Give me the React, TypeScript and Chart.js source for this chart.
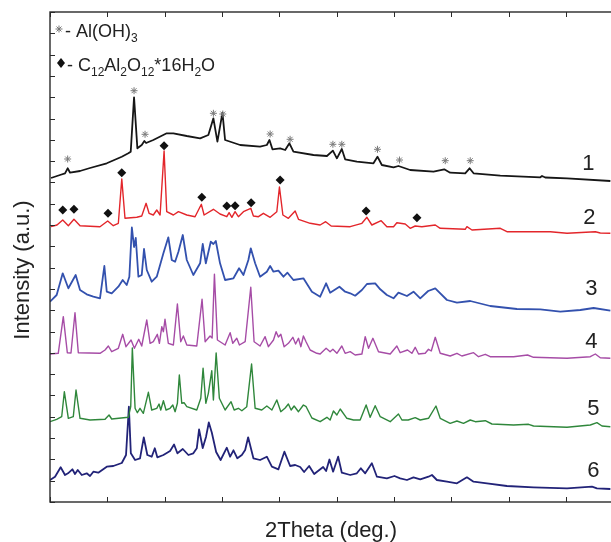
import React, { useEffect, useRef } from 'react';
import { Chart, registerables } from 'chart.js';
Chart.register(...registerables);

const FONT = '"Liberation Sans", Arial, Helvetica, sans-serif';

// axis settings (2Theta in degrees, intensity in arbitrary units)
const xMin = 5;
const xMax = 54.1;
const xTicks = [5, 10, 15, 20, 25, 30, 35, 40, 45, 50];
const yMax = 490;
const yTickCount = 23;
const xTitle = '2Theta (deg.)';
const yTitle = 'Intensity (a.u.)';
const seriesLabels = ['1', '2', '3', '4', '5', '6'];
const seriesLabelX = [51.95, 52.03, 52.21, 52.21, 52.38, 52.38];
const seriesLabelY = [332, 278, 207, 154, 87, 25];
const seriesColors = ['#161616', '#e3262b', '#3351ae', '#a64ca6', '#2f873b', '#222378'];
const seriesWidths = [1.8, 1.4, 1.8, 1.4, 1.4, 1.8];

// [2Theta, intensity]
const trace1 = [[5.09,324],[5.87,327],[6.31,328.7],[6.54,333.7],[6.75,329.3],[7.62,331],[8.49,334],[9.95,338.7],[11.26,345.3],[11.83,348.7],[12.04,350.3],[12.33,404.7],[12.62,353.7],[13.0,357],[13.23,361],[13.38,359],[14.01,362],[15.18,368.7],[15.76,368.7],[16.93,366],[18.09,363.7],[18.81,367],[19.25,383.7],[19.6,360.3],[20.04,389.3],[20.27,362],[21.58,357],[23.32,355.3],[23.91,357],[24.14,362],[24.4,352.7],[25.07,353.7],[25.51,352],[25.88,358.7],[26.23,350.3],[27.98,347],[29.15,346],[29.67,351.3],[30.02,343.7],[30.45,353],[30.74,342.7],[31.76,340.3],[33.21,338.7],[33.56,345.3],[33.94,337],[34.96,334.7],[35.39,336],[36.41,332],[38.45,330.3],[39.38,332.7],[39.9,329.3],[41.21,328.7],[41.59,333.7],[41.94,328.7],[44.27,326.3],[47.76,324.7],[47.91,326],[48.19,324.5],[50.09,323.7],[53.87,321]];

const trace2 = [[5.09,275.3],[5.61,277],[6.11,282],[6.6,276.3],[7.09,282.7],[7.62,276.3],[9.36,275.3],[10.03,281],[10.52,276.3],[10.96,278.7],[11.26,323],[11.54,283.7],[12.57,284.7],[13.0,286],[13.38,298.7],[13.64,288.7],[14.01,287],[14.31,292],[14.6,287],[14.95,351],[15.18,290.3],[15.76,287],[16.2,290.3],[16.93,287],[17.65,285.3],[18.2,297.7],[18.44,287],[19.25,292.7],[19.83,288],[20.42,285.3],[20.62,289.3],[20.86,284.7],[21.14,290.3],[21.43,285.3],[21.87,290.3],[22.51,293.7],[22.74,286],[23.18,285.3],[23.61,288.7],[24.2,284.7],[24.78,290.3],[25.01,315],[25.31,287],[25.79,283.7],[26.38,291],[26.67,282.7],[27.69,278.7],[28.56,277],[29.04,280.3],[29.52,276],[31.18,275.3],[32.2,278.7],[32.64,284.7],[33.07,277],[33.88,281.3],[34.38,275.3],[34.96,275.3],[35.25,279.3],[35.98,278],[36.41,273.7],[36.85,276],[37.43,275.3],[38.6,277],[39.03,273.7],[41.21,272.7],[41.36,275.3],[41.8,272],[44.27,273.7],[44.85,270.3],[48.63,270.3],[50.09,268.7],[52.56,270.3],[52.99,269],[53.87,268.7]];

const trace3 = [[5.0,200.3],[5.58,207],[6.11,228.7],[6.6,213.7],[7.24,227],[7.62,212],[8.2,207.7],[8.78,205.3],[9.36,203.7],[9.74,236],[9.95,210.3],[10.38,208.7],[10.96,215.3],[11.34,222],[11.69,217],[11.92,225.3],[12.14,274.5],[12.33,255],[12.48,264],[12.71,225.3],[13.0,227],[13.2,253],[13.44,232],[13.87,220.3],[14.31,225.3],[14.89,248.7],[15.32,264.7],[15.62,242],[15.91,240.3],[16.2,250.3],[16.58,267],[16.93,242],[17.5,227],[18.09,238.7],[18.32,258],[18.59,238.7],[19.02,260.3],[19.25,258],[19.46,261],[19.83,238.7],[20.27,222],[21.0,223.7],[21.49,233.7],[21.87,227],[22.3,242],[22.51,253.7],[22.89,238.7],[23.32,225.3],[23.91,230.3],[24.2,236],[24.49,230.3],[24.92,231.3],[25.36,225.3],[25.71,229.3],[26.23,222],[27.1,223.7],[27.84,210.3],[28.56,205.3],[29.08,218.7],[29.43,209.3],[30.24,215.3],[30.74,210.3],[31.18,208.7],[31.61,206.3],[32.2,212],[32.64,218],[33.36,218.7],[33.8,212.7],[34.38,207],[34.96,203.7],[35.39,209.3],[36.13,206],[36.7,210.3],[37.29,203.7],[37.98,211],[38.6,213.7],[39.62,202],[40.49,199.3],[41.65,201],[43.39,196],[45.72,193],[47.76,192.7],[49.5,190.3],[51.25,192],[52.41,194],[53.87,191.3]];

const trace4 = [[5.0,148],[5.72,148.7],[6.16,185.3],[6.51,149.3],[6.83,149],[7.18,189.3],[7.47,149.3],[9.36,148.7],[9.8,152],[10.09,156],[10.38,150.3],[10.96,153.7],[11.34,167.7],[11.63,155.3],[12.07,162],[12.36,153.7],[12.74,162.7],[13.0,156],[13.44,182],[13.73,158.7],[14.01,160.3],[14.36,167.7],[14.54,158.7],[14.75,175.3],[14.89,170.3],[15.03,182.7],[15.32,158.7],[15.76,157],[16.11,198],[16.4,160.3],[16.63,166],[16.93,157],[17.8,156],[18.26,202.7],[18.53,160.3],[18.96,166],[19.14,164],[19.34,227.7],[19.6,162],[20.27,157],[20.71,169.3],[20.94,158.7],[21.29,163.7],[21.52,157],[22.02,160.3],[22.51,214.7],[22.8,160.3],[23.32,156],[23.76,165.3],[24.05,155.3],[24.49,162],[24.72,170.3],[24.92,165],[25.13,167.7],[25.42,155.3],[25.79,158.7],[26.18,164.7],[26.42,158],[26.67,163.7],[26.88,155.3],[27.1,166],[27.34,160],[27.69,152],[28.27,148.7],[28.56,148],[29.08,153.7],[29.43,150.3],[29.67,152.7],[30.02,148.7],[30.45,156],[30.74,148.7],[31.18,150.3],[31.61,147],[32.2,148],[32.49,165.3],[32.78,153.7],[33.16,163.7],[33.65,150.3],[34.67,148],[35.25,156],[35.54,149.3],[36.18,152],[36.56,148.7],[36.85,154.7],[37.14,148],[37.72,148.7],[38.01,152.7],[38.25,151],[38.6,164.7],[39.03,148.7],[39.9,146],[40.49,148.7],[40.92,146],[41.94,149.3],[42.37,145.3],[42.96,147.7],[43.39,145.3],[45.43,145.3],[46.65,147],[47.17,144.7],[50.09,143.7],[52.12,145.3],[52.56,148],[52.99,144.3],[53.87,143.7]];

const trace5 = [[5.0,80.3],[5.58,82.7],[6.02,85.3],[6.25,110.3],[6.6,83.7],[7.03,85.3],[7.27,112],[7.62,83.7],[8.49,82],[9.8,82.7],[10.15,87],[10.38,83],[11.83,84.7],[12.04,95.3],[12.18,154],[12.42,93.7],[12.62,89.3],[12.85,93.7],[13.14,88.7],[13.58,109.7],[13.87,92],[14.31,93.7],[14.51,98],[14.66,92],[14.89,101.3],[15.12,92],[15.47,93.7],[15.71,97],[15.91,90.3],[16.11,98.7],[16.28,127],[16.49,98.7],[16.69,99.3],[16.93,95.3],[17.8,92],[18.15,103.7],[18.35,133.7],[18.59,98.7],[18.81,108.7],[19.11,131.3],[19.25,102],[19.49,149],[19.77,103.7],[20.27,92],[20.79,100.3],[21.06,92],[21.43,93.7],[21.73,91.3],[22.16,95.3],[22.58,138],[22.89,93.7],[23.47,92],[23.91,96],[24.35,92],[24.78,102],[25.13,90.3],[25.51,94],[25.79,98],[26.03,92],[26.29,96],[26.67,90.3],[27.1,97],[27.34,95.3],[27.84,84],[28.56,80.3],[29.15,84.7],[29.43,82],[29.72,91],[30.02,87],[30.31,93],[30.89,83.7],[31.47,82],[32.05,82],[32.57,97],[32.92,84.7],[33.36,96.3],[33.8,85.3],[34.67,80.3],[35.39,88],[35.69,82],[36.24,82],[36.85,84.3],[37.29,82],[38.01,83.7],[38.66,96],[39.03,83.7],[39.9,78.7],[40.49,81],[41.06,78.7],[41.65,82],[42.09,80.3],[42.96,81.3],[43.54,78],[45.43,77],[46.74,77.7],[47.17,76],[50.09,74.7],[52.12,77],[52.7,79.3],[53.14,76],[53.87,75.3]];

const trace6 = [[5.0,22],[5.44,25.3],[5.93,34.7],[6.31,27],[6.57,28.7],[6.95,32.7],[7.18,28],[7.42,32],[7.77,27],[8.2,28.7],[8.49,26],[8.78,30.3],[9.21,29.3],[9.95,35.3],[10.52,36],[11.26,39],[11.63,47],[11.88,95.3],[12.05,48.7],[12.42,42],[12.85,43.7],[13.18,64.5],[13.49,47],[13.87,45.3],[14.14,53.7],[14.36,44.7],[14.89,47],[15.47,51],[15.82,57.5],[16.11,48.7],[16.58,53],[17.07,47],[17.5,48.7],[17.8,53.7],[18.0,72.5],[18.32,54],[18.61,65.3],[18.85,79.5],[19.11,69.5],[19.49,50],[19.88,42],[20.42,54.3],[20.71,45.3],[21.0,51.7],[21.34,43.7],[21.73,47],[22.02,52],[22.28,64.7],[22.74,43.7],[23.32,42],[23.91,45.3],[24.35,35.3],[24.92,32.7],[25.44,50.3],[25.94,36],[26.38,37],[26.82,35],[27.16,30],[27.6,36],[28.04,28],[28.82,35],[29.08,31],[29.37,42.5],[29.69,30.3],[30.13,45.3],[30.45,29.3],[31.18,27],[31.76,28.7],[32.11,33.7],[32.49,28.7],[33.07,38.7],[33.51,25.3],[34.38,23.7],[35.04,26],[35.54,23.7],[36.13,22],[36.7,24.7],[37.29,22.7],[38.01,25.3],[38.31,27],[38.74,22],[39.62,20.3],[40.49,18.7],[41.36,24.7],[41.94,20.3],[43.11,18.7],[44.85,16],[47.17,14.7],[50.09,13.7],[52.27,15.3],[52.7,13.7],[53.87,13]];

const diamondMarks = [[6.11,292],[7.09,292.7],[10.06,288.7],[11.26,329.3],[14.95,356.3],[18.24,304.7],[20.42,296],[21.14,296.3],[22.54,299.3],[25.07,322],[32.57,291],[37.0,284.3]];
const starMarks = [[6.54,343],[12.33,411.3],[13.29,367.7],[19.25,388.7],[20.07,388],[24.2,368],[25.94,362.7],[29.67,357.7],[30.45,357.7],[33.56,352.7],[35.48,342],[39.47,341.3],[41.65,341.3]];

const legendLines = [
  { symbol: 'star', parts: [['- Al(OH)', false], ['3', true]] },
  { symbol: 'diamond', parts: [['- C', false], ['12', true], ['Al', false], ['2', true], ['O', false], ['12', true], ['*16H', false], ['2', true], ['O', false]] },
];

const toXY = (arr: number[][]) => arr.map(([x, y]) => ({ x, y }));

function drawStar(ctx: CanvasRenderingContext2D, x: number, y: number, r: number) {
  ctx.beginPath();
  for (let i = 0; i < 4; i++) {
    const a = (i * Math.PI) / 4;
    ctx.moveTo(x - Math.cos(a) * r, y - Math.sin(a) * r);
    ctx.lineTo(x + Math.cos(a) * r, y + Math.sin(a) * r);
  }
  ctx.stroke();
}

const decorPlugin = {
  id: 'decor',
  afterDatasetsDraw(chart: any) {
    const { ctx, chartArea: a, scales } = chart;
    const xs = scales.x;
    const ys = scales.y;
    ctx.save();
    ctx.strokeStyle = '#2a2a2a';
    ctx.lineWidth = 1.4;
    ctx.strokeRect(a.left, a.top, a.right - a.left, a.bottom - a.top);
    ctx.beginPath();
    for (const v of xTicks) {
      const px = Math.round(xs.getPixelForValue(v)) + 0.5;
      ctx.moveTo(px, a.bottom);
      ctx.lineTo(px, a.bottom - 5);
      ctx.moveTo(px, a.top);
      ctx.lineTo(px, a.top + 5);
    }
    for (let i = 0; i <= yTickCount; i++) {
      const py = Math.round(ys.getPixelForValue((i * yMax) / yTickCount)) + 0.5;
      ctx.moveTo(a.left, py);
      ctx.lineTo(a.left + 5, py);
    }
    ctx.lineWidth = 1;
    ctx.stroke();
    ctx.restore();
  },
  afterDraw(chart: any) {
    const { ctx, chartArea: a, scales } = chart;
    const xs = scales.x;
    const ys = scales.y;
    ctx.save();
    ctx.fillStyle = '#222';
    // series numbers
    ctx.font = `22px ${FONT}`;
    ctx.textAlign = 'center';
    ctx.textBaseline = 'alphabetic';
    seriesLabels.forEach((t, i) => {
      ctx.fillText(t, xs.getPixelForValue(seriesLabelX[i]), ys.getPixelForValue(seriesLabelY[i]));
    });
    // axis titles
    ctx.fillText(xTitle, (a.left + 612) / 2, 537);
    ctx.save();
    ctx.translate(29, 270);
    ctx.rotate(-Math.PI / 2);
    ctx.fillText(yTitle, 0, 0);
    ctx.restore();
    // legend
    ctx.textAlign = 'left';
    const lineY = [36.5, 70.5];
    legendLines.forEach((ln, i) => {
      const by = lineY[i];
      if (ln.symbol === 'star') {
        ctx.strokeStyle = '#777';
        ctx.lineWidth = 1;
        drawStar(ctx, 59, by - 7.5, 3.5);
      } else {
        ctx.fillStyle = '#111';
        ctx.beginPath();
        ctx.moveTo(61, by - 12.5);
        ctx.lineTo(65, by - 7.5);
        ctx.lineTo(61, by - 2.5);
        ctx.lineTo(57, by - 7.5);
        ctx.closePath();
        ctx.fill();
      }
      ctx.fillStyle = '#222';
      let x = i === 0 ? 65 : 67;
      for (const [txt, sub] of ln.parts as [string, boolean][]) {
        ctx.font = sub ? `12px ${FONT}` : `18px ${FONT}`;
        ctx.fillText(txt, x, sub ? by + 5.5 : by);
        x += ctx.measureText(txt).width;
      }
    });
    ctx.restore();
  },
};

export default function App() {
  const ref = useRef<HTMLCanvasElement>(null);
  useEffect(() => {
    if (!ref.current) return;
    const traces = [trace1, trace2, trace3, trace4, trace5, trace6];
    const chart = new Chart(ref.current, {
      type: 'line',
      data: {
        datasets: [
          {
            label: 'diamonds',
            data: toXY(diamondMarks),
            showLine: false,
            pointStyle: 'rectRot',
            pointRadius: 4.5,
            pointBackgroundColor: '#111',
            pointBorderColor: '#111',
            pointBorderWidth: 0,
          },
          {
            label: 'stars',
            data: toXY(starMarks),
            showLine: false,
            pointStyle: 'star',
            pointRadius: 3.5,
            pointBorderColor: '#7a7a7a',
            pointBorderWidth: 1,
          },
          ...traces.map((t, i) => ({
            label: seriesLabels[i],
            data: toXY(t),
            borderColor: seriesColors[i],
            borderWidth: seriesWidths[i],
            borderJoinStyle: 'round',
            pointRadius: 0,
            tension: 0,
            fill: false,
          })),
        ] as any,
      },
      options: {
        animation: false,
        responsive: false,
        maintainAspectRatio: false,
        layout: { padding: { left: 50, top: 12, right: 27, bottom: 40 } },
        plugins: { legend: { display: false }, tooltip: { enabled: false } },
        scales: {
          x: { type: 'linear', min: xMin, max: xMax, display: false },
          y: { type: 'linear', min: 0, max: yMax, display: false },
        },
      },
      plugins: [decorPlugin],
    });
    return () => chart.destroy();
  }, []);
  return (
    <div style={{ position: 'fixed', left: 0, top: 0, width: 611, height: 542, overflow: 'hidden', background: '#fff' }}>
      <canvas ref={ref} width={640} height={542} style={{ display: 'block' }} />
    </div>
  );
}
